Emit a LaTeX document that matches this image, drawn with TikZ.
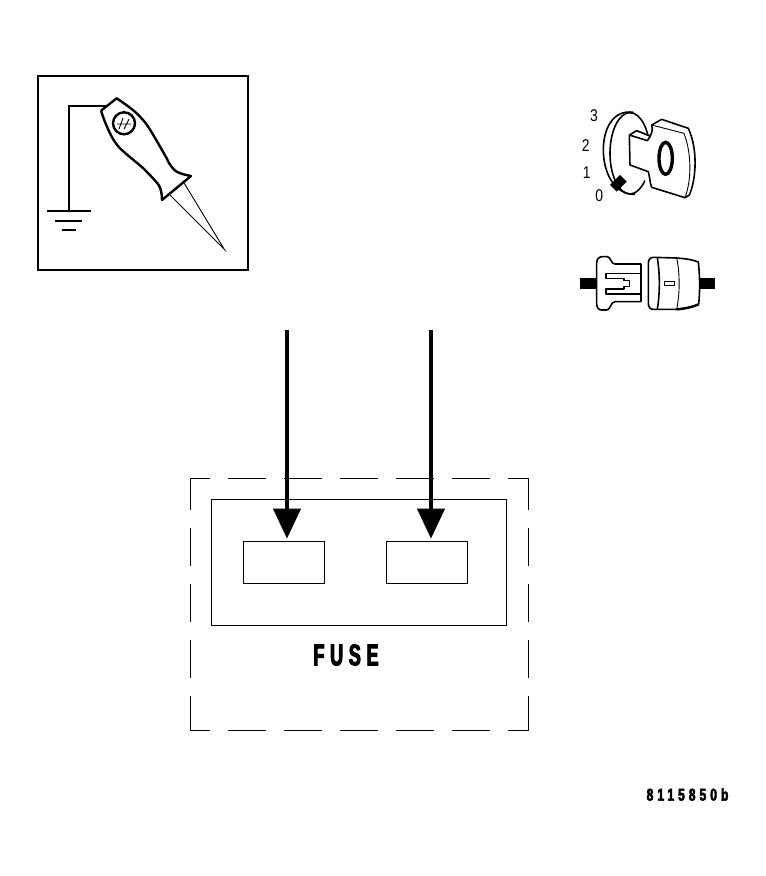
\documentclass[tikz,border=0pt]{standalone}
\usepackage{fontspec}
\setmainfont{Liberation Sans}
\newfontfamily\heavyfont[FakeBold=3.2,FakeStretch=0.6,LetterSpace=19]{Liberation Sans Bold}
\newfontfamily\codefont[FakeBold=3,FakeStretch=0.72,LetterSpace=23]{Liberation Sans Bold}
\newfontfamily\dialfont[FakeStretch=0.82]{Liberation Sans}
\usepackage{tikz}
\usetikzlibrary{arrows.meta,calc}

\begin{document}
\begin{tikzpicture}[
  x=1pt, y=-1pt,
  panel/.style={draw, line width=2pt, minimum width=210pt, minimum height=194pt, inner sep=0pt},
  fusebox/.style={draw, line width=1.2pt, minimum width=295pt, minimum height=126pt, inner sep=0pt},
  slot/.style={draw, line width=1.2pt, minimum width=81pt, minimum height=42pt, inner sep=0pt},
  feed/.style={-{Triangle[length=30pt,width=27pt]}, line width=4pt, shorten >=2pt},
  wire/.style={line width=2pt},
  outline/.style={line width=2.4pt, line join=round},
  keyline/.style={line width=1.6pt, line join=round},
  thinline/.style={line width=0.9pt},
  border/.style={line width=1.2pt, dash pattern=on 37.3pt off 18.7pt},
  dial/.style={font=\dialfont\fontsize{17}{17}\selectfont, inner sep=0pt},
]
\useasboundingbox (0,0) rectangle (766,876);

% tester panel
\node[panel] (tester) at (142.8,173.3) {};
\coordinate (probe) at (108,105.7);
\coordinate (earth) at (69,210.7);
\draw[wire] (probe) -- (probe -| earth) -- (earth);
\draw[wire] (47.3,210.7) -- (90.7,210.7);
\draw[wire] (55.3,220.7) -- (82,220.7);
\draw[wire] (62.3,230) -- (75.7,230);
\draw[outline, fill=white] (101,110.7) -- (116.7,98.3)
  .. controls (125,104) and (134,110) .. (140,116.7)
  .. controls (148,125) and (150,130) .. (153.3,135)
  .. controls (158,143) and (162,150) .. (166.7,158.3)
  .. controls (170,166) and (174,170) .. (176.7,171.7)
  .. controls (181,174) and (186,175) .. (191,176)
  -- (162,200)
  .. controls (162,194) and (161,188) .. (158,184)
  .. controls (152,177) and (148,173) .. (143.3,168.3)
  .. controls (135,161) and (127,155) .. (120,148.3)
  .. controls (114,142) and (112,137) .. (110,133.3)
  .. controls (106,125) and (103,117) .. (101,110.7);
\draw[line width=2.4pt] (124,123.3) circle (11);
\draw[thinline] (119,129) -- (123,118) (124,129) -- (129,119) (117,124) -- (131,124);
\draw[thinline] (170,195) -- (224.3,249.3) -- (184.3,183.3);

% ignition key
\node[dial] (pos3) at (594,116) {3};
\node[dial] (pos2) at (585.7,145.7) {2};
\node[dial] (pos1) at (586.7,172.7) {1};
\node[dial] (pos0) at (599.3,195.3) {0};
\begin{scope}[shift={(570,100)}, scale=0.3333]
  \draw[keyline] (190,37) .. controls (130,28) and (100,85) .. (100,150)
    .. controls (100,220) and (135,285) .. (195,283);
  \draw[keyline] (180,160) ellipse (60 and 122);
  \fill[white] (180,105) -- (240,110) -- (245,262) -- (180,195) -- cycle;
  \draw[keyline, fill=white] (178,105) -- (200,92) -- (240,108)
    .. controls (238,112) and (236,118) .. (232,122)
    -- (178,105) -- (180,195) -- (235,215)
    .. controls (240,235) and (240,250) .. (245,262)
    -- (345,293) -- (358,285)
    .. controls (378,240) and (385,150) .. (355,85)
    -- (275,58) -- (245,75)
    .. controls (250,90) and (245,105) .. (232,122);
  \draw[thinline] (245,75) -- (342,100) .. controls (365,160) and (365,240) .. (345,293);
  \draw[line width=3.4pt] (287,175) ellipse (20 and 48);
  \fill (120,255) -- (150,225) -- (170,245) -- (140,275) -- cycle;
\end{scope}

% connector
\begin{scope}[shift={(570,250)}, scale=0.3333]
  \fill (30,83) rectangle (82,118);
  \fill (385,83) rectangle (435,118);
  \draw[keyline, fill=white] (80,40) .. controls (80,28) and (86,20) .. (97,20)
    -- (112,20) .. controls (122,20) and (122,42) .. (135,42)
    -- (213,42) -- (213,155) -- (135,155)
    .. controls (122,155) and (122,180) .. (110,180)
    -- (95,180) .. controls (85,180) and (80,172) .. (80,160) -- cycle;
  \draw[keyline] (213,70) -- (108,70) -- (108,85) -- (162,85) -- (162,92) -- (179,92)
    -- (179,110) -- (162,110) -- (162,117) -- (108,117) -- (108,132) -- (213,132);
  \draw[keyline, fill=white] (250,22) -- (320,24) .. controls (345,26) and (365,28) .. (385,36)
    .. controls (390,80) and (390,125) .. (386,163)
    .. controls (365,172) and (345,176) .. (320,178)
    -- (250,178) .. controls (240,178) and (235,170) .. (235,160)
    -- (235,40) .. controls (235,30) and (240,22) .. (250,22);
  \draw[keyline] (262,24) .. controls (270,70) and (270,130) .. (262,178);
  \draw[thinline] (320,24) .. controls (330,70) and (330,130) .. (320,178);
  \draw[line width=2.4pt] (320,178) .. controls (345,176) and (365,172) .. (386,163);
  \draw[thinline] (283,93) rectangle (314,106);
\end{scope}

% fuse block
\node[fusebox] (block) at (359,562.3) {};
\node[slot] (slotA) at (284,562.3) {};
\node[slot] (slotB) at (427,562.3) {};
\draw[border, dash phase=18pt] (190.3,478.3) -- (528.7,478.3);
\draw[border, dash phase=18pt] (190.3,730.3) -- (528.7,730.3);
\draw[border, dash phase=6pt] (190.3,478.3) -- (190.3,730.3);
\draw[border, dash phase=6pt] (528.7,478.3) -- (528.7,730.3);
\node[font=\heavyfont\fontsize{30}{30}\selectfont, inner sep=0pt] (fuse) at (346,655) {FUSE};

\coordinate (feedA) at (287,330);
\coordinate (feedB) at (431,330);
\draw[feed] (feedA) -- (feedA |- slotA.north);
\draw[feed] (feedB) -- (feedB |- slotB.north);

\node[font=\codefont\fontsize{17}{17}\selectfont, inner sep=0pt] (code) at (687.5,794.5) {8115850b};

\end{tikzpicture}
\end{document}
